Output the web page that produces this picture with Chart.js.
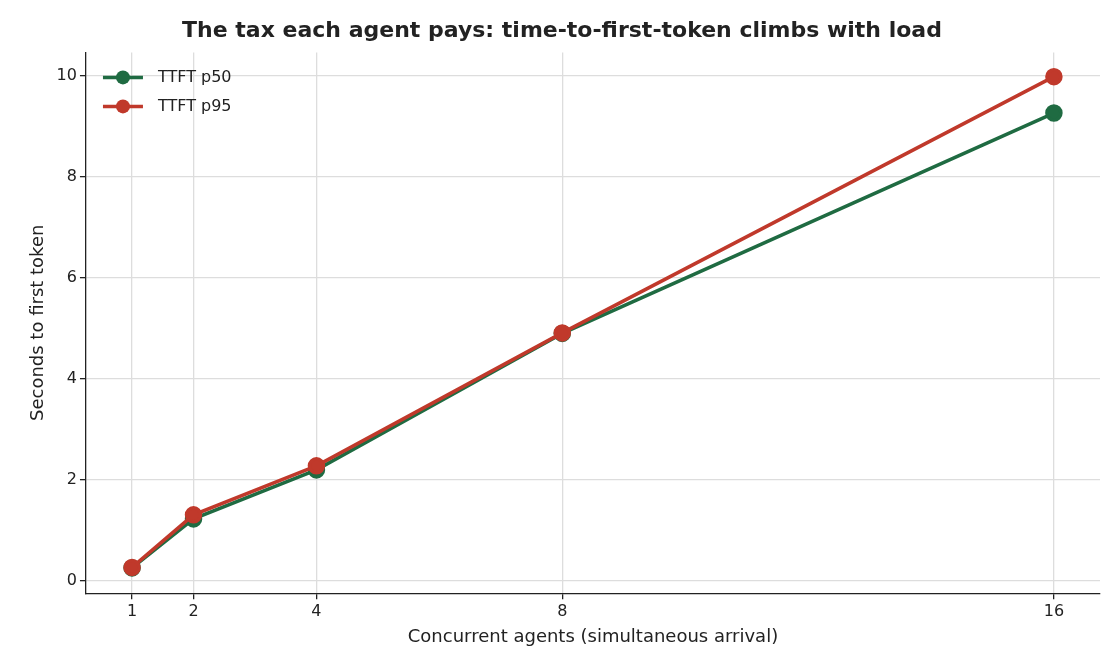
<!DOCTYPE html>
<html><head><meta charset="utf-8">
<script src="https://cdn.jsdelivr.net/npm/chart.js@4/dist/chart.umd.min.js"></script>
<style>html,body{margin:0;padding:0;background:#fff}#w{width:1120px;height:672px}</style>
</head><body><div id="w"><canvas id="c"></canvas></div>
<script>
const agents = [1, 2, 4, 8, 16];
const p50 = [0.26, 1.23, 2.20, 4.90, 9.26];
const p95 = [0.27, 1.31, 2.28, 4.91, 9.98];
const yTicks = [0, 2, 4, 6, 8, 10];
const pts = a => agents.map((x, i) => ({x, y: a[i]}));
const legendPlugin = {id: 'inLegend', afterDraw(chart) {
  const ctx = chart.ctx, a = chart.chartArea;
  chart.data.datasets.forEach((ds, i) => {
    const y = a.top + 25 + i * 29, x0 = a.left + 17;
    ctx.save();
    ctx.strokeStyle = ds.borderColor; ctx.lineWidth = 3.5;
    ctx.beginPath(); ctx.moveTo(x0, y); ctx.lineTo(x0 + 40, y); ctx.stroke();
    ctx.fillStyle = ds.backgroundColor;
    ctx.beginPath(); ctx.arc(x0 + 20, y, 7, 0, Math.PI * 2); ctx.fill();
    ctx.fillStyle = '#222'; ctx.font = '16px "DejaVu Sans"'; ctx.textBaseline = 'middle';
    ctx.fillText(ds.label, x0 + 55, y);
    ctx.restore();
  });
}};
new Chart(document.getElementById('c'), {
  type: 'scatter',
  data: { datasets: [
    {label: 'TTFT p50', data: pts(p50), order: 2, showLine: true, borderColor: '#1f6b42', backgroundColor: '#1f6b42', borderWidth: 3.5, pointRadius: 7, pointHoverRadius: 7},
    {label: 'TTFT p95', data: pts(p95), order: 1, showLine: true, borderColor: '#c0392b', backgroundColor: '#c0392b', borderWidth: 3.5, pointRadius: 7, pointHoverRadius: 7}
  ]},
  options: {
    responsive: true, maintainAspectRatio: false, animation: false,
    layout: {padding: {left: 24, right: 20, top: 8, bottom: 20}},
    plugins: {
      title: {display: true, text: 'The tax each agent pays: time-to-first-token climbs with load', font: {family: 'DejaVu Sans', size: 22, weight: 'bold'}, color: '#222', padding: {top: 10, bottom: 8}},
      legend: {display: false},
      tooltip: {enabled: false}
    },
    scales: {
      x: {type: 'linear', min: 0.25, max: 16.75,
        afterBuildTicks: ax => { ax.ticks = agents.map(v => ({value: v})); },
        ticks: {font: {family: 'DejaVu Sans', size: 16}, color: '#222', autoSkip: false},
        grid: {color: '#dddddd', lineWidth: 1.3, drawTicks: true, tickColor: '#222', tickLength: 6},
        border: {color: '#222', width: 1.3},
        title: {display: true, text: 'Concurrent agents (simultaneous arrival)', font: {family: 'DejaVu Sans', size: 18}, color: '#222', padding: {top: 2}}},
      y: {min: -0.24, max: 10.46,
        afterBuildTicks: ax => { ax.ticks = yTicks.map(v => ({value: v})); },
        ticks: {font: {family: 'DejaVu Sans', size: 16}, color: '#222'},
        grid: {color: '#dddddd', lineWidth: 1.3, tickColor: '#222', tickLength: 6},
        border: {color: '#222', width: 1.3},
        title: {display: true, text: 'Seconds to first token', font: {family: 'DejaVu Sans', size: 18}, color: '#222'}}
    }
  },
  plugins: [legendPlugin]
});
</script></body></html>
